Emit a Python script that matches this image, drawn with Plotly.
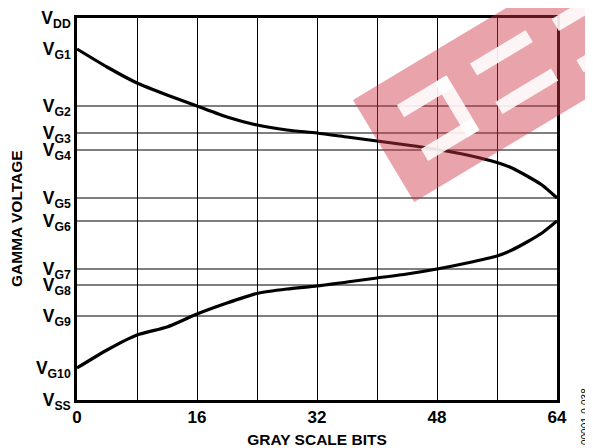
"""Gamma voltage vs gray scale bits, rebuilt with Plotly."""

import plotly.graph_objects as go

# gray scale positions sampled along the curves
bits = [0, 4, 8, 12, 16, 20, 24, 28, 32, 36, 40, 44, 48, 52, 56, 58, 60, 62, 64]

# upper (positive polarity) and lower (negative polarity) gamma curves
upper_curve = [351, 333, 317, 305, 294, 283, 275, 270, 267, 263, 259, 255, 250.5,
               245, 237.5, 232, 224, 215, 202]
lower_curve = [32, 50, 65, 73, 86, 97, 106.5, 111, 114, 118, 122, 126, 131,
               137, 144, 150, 158, 167, 179]

# reference voltage levels on the y axis
level_names = ['DD', 'G1', 'G2', 'G3', 'G4', 'G5', 'G6', 'G7', 'G8', 'G9', 'G10', 'SS']
level_values = [382, 351, 294, 267, 250, 202, 179, 131, 115, 84, 32, 0]
grid_levels = ['G2', 'G3', 'G4', 'G5', 'G6', 'G7', 'G8', 'G9']

x_ticks = [0, 8, 16, 24, 32, 40, 48, 56, 64]
x_ticktext = ['0', '', '16', '', '32', '', '48', '', '64']

FONT = 'Arial, Liberation Sans, sans-serif'

fig = go.Figure()

for ys in (upper_curve, lower_curve):
    fig.add_trace(go.Scatter(
        x=bits, y=ys, mode='lines',
        line=dict(color='black', width=3.2, shape='spline', smoothing=0.6),
        showlegend=False, hoverinfo='skip'
    ))

# horizontal grid lines only at the inner gamma levels
shapes = []
for name, val in zip(level_names, level_values):
    if name in grid_levels:
        shapes.append(dict(type='line', xref='paper', x0=0, x1=1, yref='y', y0=val, y1=val,
                           line=dict(color='black', width=1.2), layer='below'))

# page has an 8px body margin, so the figure is a bit smaller than the window
W, H = 585, 440
L, R, T, B = 69, 36, 10, 48


# watermark geometry is measured in window pixels; plot area spans x 77..557, y 18..400
def to_paper(px, py):
    return (px - 77) / 480, (400 - py) / 382


def band_path(u0, u1, v0, v1):
    ox, oy = 353, 100
    dx, dy = 0.857, -0.515
    nx, ny = 0.515, 0.857
    pts = []
    for u, v in [(u0, v0), (u1, v0), (u1, v1), (u0, v1)]:
        pts.append(to_paper(ox + u * dx + v * nx, oy + u * dy + v * ny))
    return 'M ' + ' L '.join(f'{a:.4f},{b:.4f}' for a, b in pts) + ' Z'


shapes.append(dict(type='path', xref='paper', yref='paper', path=band_path(0, 420, 0, 119),
                   fillcolor='rgba(206,51,66,0.45)', line=dict(width=0), layer='above'))
for u0, u1, v0, v1 in [(35, 92, 27, 41), (33, 92, 77, 91), (79, 93, 27, 91),
                       (119, 184, 29, 43), (121, 186, 75, 89),
                       (212, 300, 33, 47), (212, 300, 81, 95)]:
    shapes.append(dict(type='path', xref='paper', yref='paper', path=band_path(u0, u1, v0, v1),
                       fillcolor='rgba(255,255,255,0.88)', line=dict(width=0), layer='above'))

fig.update_layout(
    width=W, height=H,
    margin=dict(l=L, r=R, t=T, b=B, autoexpand=False),
    plot_bgcolor='white', paper_bgcolor='white',
    font=dict(family=FONT, color='black'),
    shapes=shapes,
    xaxis=dict(
        range=[0, 64], tickvals=x_ticks, ticktext=[f'<b>{t}</b>' if t else '' for t in x_ticktext],
        showgrid=True, gridcolor='black', gridwidth=1.2, automargin=False,
        showline=True, linecolor='black', linewidth=2.5, mirror=True,
        zeroline=False, ticks='', tickfont=dict(size=17, family=FONT),
        title=dict(text='<b>GRAY SCALE BITS</b>', font=dict(size=15.5, family=FONT), standoff=8)
    ),
    yaxis=dict(
        range=[0, 382], tickvals=level_values,
        ticktext=[f'<b>V<sub>{n}</sub></b>' for n in level_names],
        showgrid=False, automargin=False,
        showline=True, linecolor='black', linewidth=2.5, mirror=True,
        zeroline=False, ticks='', tickfont=dict(size=17.5, family=FONT),
    ),
    annotations=[
        dict(text='<b>GAMMA VOLTAGE</b>', xref='paper', yref='paper',
             x=to_paper(16, 219)[0], y=to_paper(16, 219)[1],
             showarrow=False, textangle=-90, font=dict(size=15.5, family=FONT, color='black'),
             xanchor='center', yanchor='middle'),
        dict(text='00001-0-038', xref='paper', yref='paper',
             x=to_paper(586, 417)[0], y=to_paper(586, 417)[1],
             showarrow=False, textangle=-90, font=dict(size=10, family=FONT, color='black'),
             xanchor='center', yanchor='middle'),
    ]
)

fig.write_html("out.html")
